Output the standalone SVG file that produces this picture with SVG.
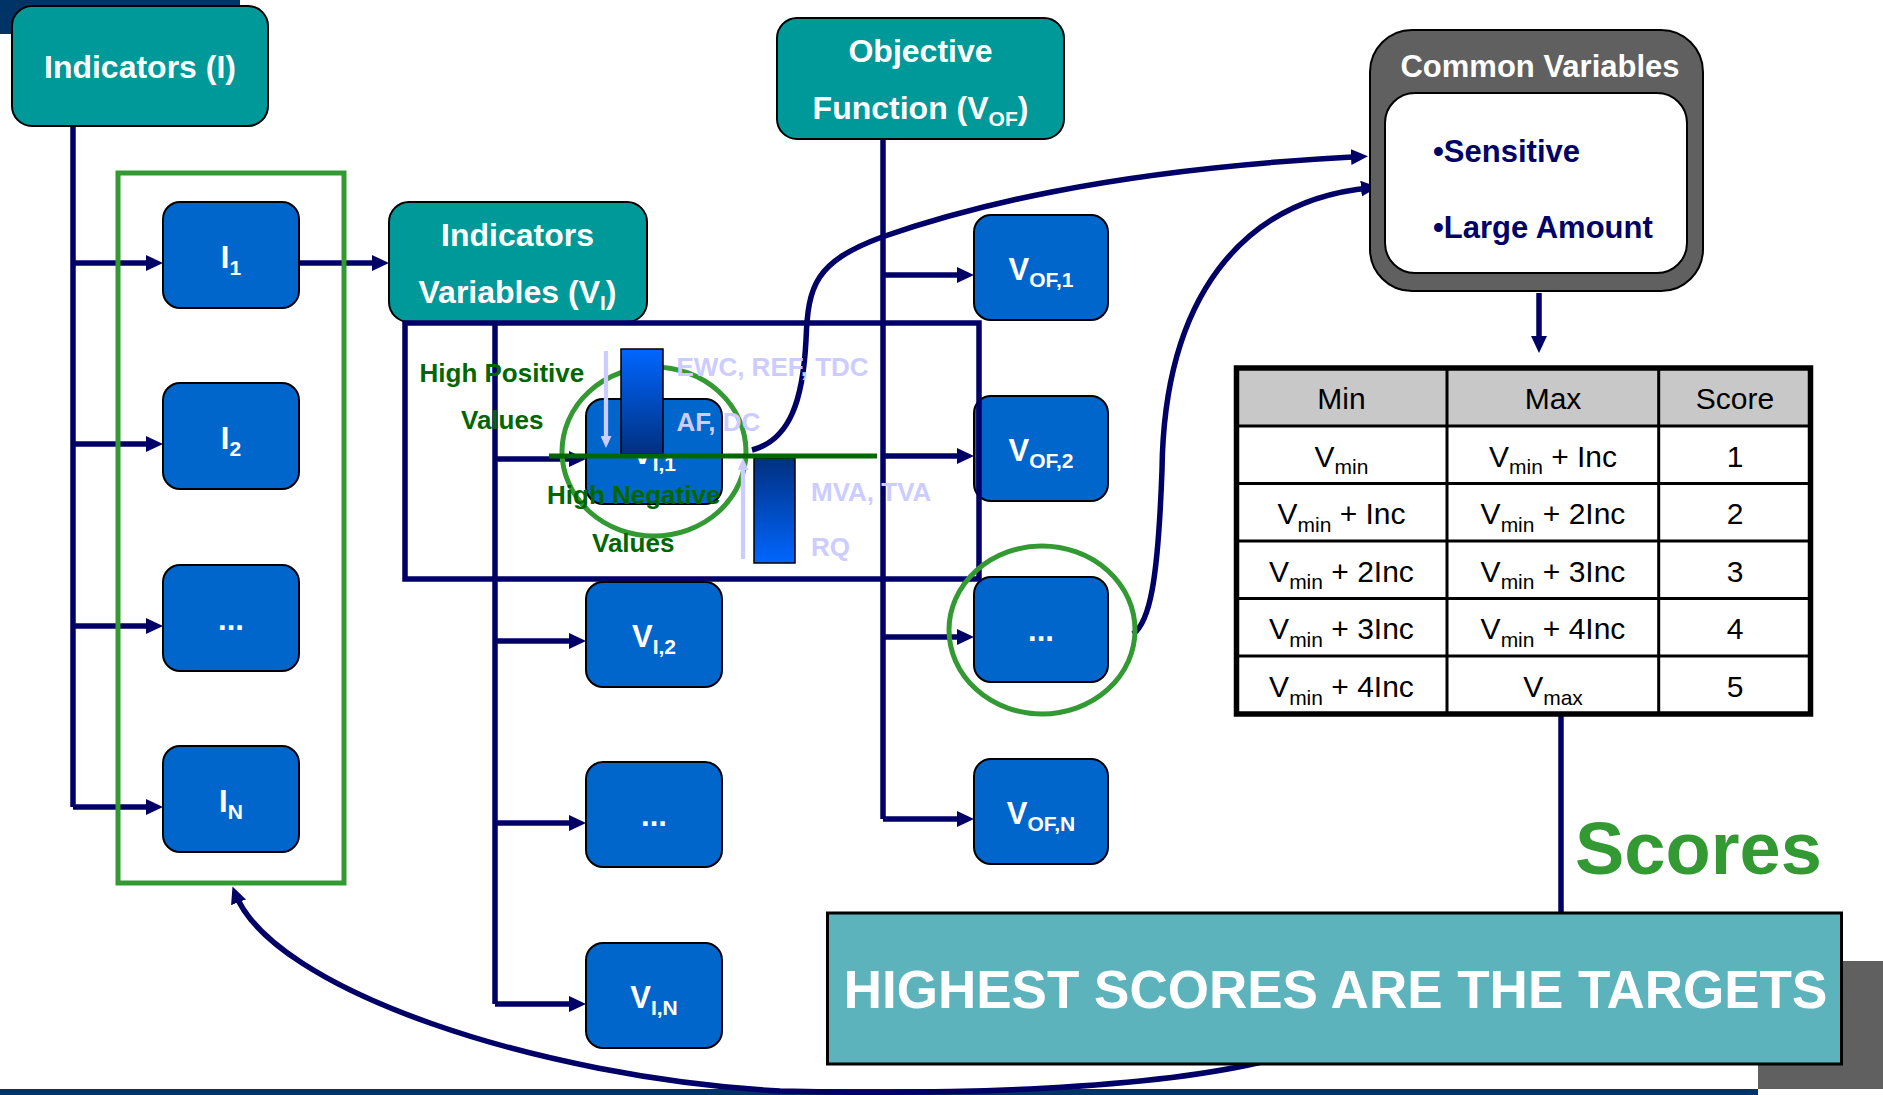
<svg xmlns="http://www.w3.org/2000/svg" width="1883" height="1095" viewBox="0 0 1883 1095">
<defs>
<style>
.teal{fill:#009999;stroke:#000;stroke-width:2}
.blue{fill:#0066cc;stroke:#000;stroke-width:2}
.t{font-family:"Liberation Sans",Arial,sans-serif;font-weight:bold}
.w{fill:#fff}
.h{font-size:32px}
.bt{font-size:31px}
.s{font-size:21px}
.conn{fill:none;stroke:#000066;stroke-width:5.5}
.arr{marker-end:url(#ah)}
.grn{fill:#006600;font-size:26px}
.lav{fill:#ccccff;font-size:26px}
.tt{font-family:"Liberation Sans",Arial,sans-serif;font-size:30px;fill:#000}
.ts{font-size:21px}
.tl{stroke:#000;stroke-width:3}
</style>
<marker id="ah" markerUnits="userSpaceOnUse" viewBox="0 0 17 16" markerWidth="17" markerHeight="16" refX="10" refY="8" orient="auto">
<path d="M0 0 L17 8 L0 16 z" fill="#000066"/>
</marker>
<marker id="lah" markerUnits="userSpaceOnUse" viewBox="0 0 12 11" markerWidth="12" markerHeight="11" refX="7" refY="5.5" orient="auto">
<path d="M0 0 L12 5.5 L0 11 z" fill="#ccccff"/>
</marker>
<linearGradient id="gpos" x1="0" y1="0" x2="0" y2="1">
<stop offset="0" stop-color="#0066ff"/>
<stop offset="1" stop-color="#003080"/>
</linearGradient>
<linearGradient id="gneg" x1="0" y1="0" x2="0" y2="1">
<stop offset="0" stop-color="#003080"/>
<stop offset="1" stop-color="#0066ff"/>
</linearGradient>
</defs>

<g id="background">
<rect x="0" y="0" width="240" height="34" fill="#003366"/>
<rect x="1758" y="961" width="125" height="128" fill="#606060"/>
<rect x="0" y="1089" width="1758" height="6" fill="#003366"/>
</g>

<g id="connectors">
<path class="conn" d="M73 126 V807"/>
<path class="conn arr" d="M73 263 H156"/>
<path class="conn arr" d="M73 444 H156"/>
<path class="conn arr" d="M73 626 H156"/>
<path class="conn arr" d="M73 807 H156"/>
<path class="conn arr" d="M299 263 H382"/>
<path class="conn" d="M495 322 V1004"/>
<path class="conn arr" d="M495 459 H579"/>
<path class="conn arr" d="M495 641 H579"/>
<path class="conn arr" d="M495 823 H579"/>
<path class="conn arr" d="M495 1004 H579"/>
<path class="conn" d="M883 139 V819"/>
<path class="conn arr" d="M883 275 H967"/>
<path class="conn arr" d="M883 456 H967"/>
<path class="conn arr" d="M883 637 H967"/>
<path class="conn arr" d="M883 819 H967"/>
<path class="conn arr" d="M752 450 C790 440 803 400 806 340 C808 285 815 262 882 237 C960 210 1100 170 1361 156.5"/>
<path class="conn arr" d="M1133 634 C1150 622 1158 580 1162 470 C1164 300 1240 200 1371 187.7"/>
<path class="conn arr" d="M1539 293 V346"/>
<path class="conn" stroke-width="4" d="M1561 716 V913"/>
<path class="conn arr" d="M1270 1060 C1150 1090 950 1095 780 1091 C540 1078 272 990 235 893"/>
</g>

<g id="indicators-group-frame">
<rect x="118" y="173" width="226" height="710" fill="none" stroke="#339933" stroke-width="5"/>
</g>

<g id="node-indicators">
<rect class="teal" x="12" y="6" width="256" height="120" rx="20"/>
<text class="t w h" x="140" y="78" text-anchor="middle">Indicators (I)</text>
</g>
<g id="node-I1">
<rect class="blue" x="163" y="202" width="136" height="106" rx="17"/>
<text class="t w bt" x="231" y="267.5" text-anchor="middle">I<tspan class="s" dy="7">1</tspan></text>
</g>
<g id="node-I2">
<rect class="blue" x="163" y="383" width="136" height="106" rx="17"/>
<text class="t w bt" x="231" y="448.5" text-anchor="middle">I<tspan class="s" dy="7">2</tspan></text>
</g>
<g id="node-I3">
<rect class="blue" x="163" y="565" width="136" height="106" rx="17"/>
<text class="t w bt" x="231" y="630" text-anchor="middle">...</text>
</g>
<g id="node-IN">
<rect class="blue" x="163" y="746" width="136" height="106" rx="17"/>
<text class="t w bt" x="231" y="811.5" text-anchor="middle">I<tspan class="s" dy="7">N</tspan></text>
</g>

<g id="node-indicators-variables">
<rect class="teal" x="389" y="202" width="258" height="120" rx="20"/>
<text class="t w h" x="517.5" y="246" text-anchor="middle">Indicators</text>
<text class="t w h" x="517.5" y="303" text-anchor="middle">Variables (V<tspan class="s" dy="7">I</tspan><tspan dy="-7">)</tspan></text>
</g>
<g id="node-VI1">
<rect class="blue" x="586" y="399" width="136" height="105" rx="17"/>
<text class="t w bt" x="654" y="464" text-anchor="middle">V<tspan class="s" dy="7">I,1</tspan></text>
</g>
<g id="node-VI2">
<rect class="blue" x="586" y="582" width="136" height="105" rx="17"/>
<text class="t w bt" x="654" y="647" text-anchor="middle">V<tspan class="s" dy="7">I,2</tspan></text>
</g>
<g id="node-VI3">
<rect class="blue" x="586" y="762" width="136" height="105" rx="17"/>
<text class="t w bt" x="654" y="826" text-anchor="middle">...</text>
</g>
<g id="node-VIN">
<rect class="blue" x="586" y="943" width="136" height="105" rx="17"/>
<text class="t w bt" x="654" y="1008" text-anchor="middle">V<tspan class="s" dy="7">I,N</tspan></text>
</g>

<g id="node-objective-function">
<rect class="teal" x="777" y="18" width="287" height="121" rx="20"/>
<text class="t w h" x="920.5" y="62" text-anchor="middle">Objective</text>
<text class="t w h" x="920.5" y="119" text-anchor="middle">Function (V<tspan class="s" dy="7">OF</tspan><tspan dy="-7">)</tspan></text>
</g>
<g id="node-VOF1">
<rect class="blue" x="974" y="215" width="134" height="105" rx="17"/>
<text class="t w bt" x="1041" y="280" text-anchor="middle">V<tspan class="s" dy="7">OF,1</tspan></text>
</g>
<g id="node-VOF2">
<rect class="blue" x="974" y="396" width="134" height="105" rx="17"/>
<text class="t w bt" x="1041" y="461" text-anchor="middle">V<tspan class="s" dy="7">OF,2</tspan></text>
</g>
<g id="node-VOF3">
<rect class="blue" x="974" y="577" width="134" height="105" rx="17"/>
<text class="t w bt" x="1041" y="641" text-anchor="middle">...</text>
</g>
<g id="node-VOFN">
<rect class="blue" x="974" y="759" width="134" height="105" rx="17"/>
<text class="t w bt" x="1041" y="824" text-anchor="middle">V<tspan class="s" dy="7">OF,N</tspan></text>
</g>

<g id="frame-VI1-detail">
<rect x="405" y="323" width="574" height="256" fill="none" stroke="#000066" stroke-width="5.5"/>
<ellipse cx="654" cy="451.5" rx="92" ry="84.5" fill="none" stroke="#339933" stroke-width="5"/>
<rect x="621" y="349" width="42" height="105" fill="url(#gpos)" stroke="#000" stroke-width="1.5"/>
<rect x="754" y="458" width="41" height="105" fill="url(#gneg)" stroke="#000" stroke-width="1.5"/>
<path d="M606 351 V443" stroke="#ccccff" stroke-width="4.3" fill="none" marker-end="url(#lah)"/>
<path d="M743 559 V463" stroke="#ccccff" stroke-width="4.3" fill="none" marker-end="url(#lah)"/>
<path d="M549 456 H877" stroke="#006600" stroke-width="5"/>
<text class="t grn" x="419.5" y="382">High Positive</text>
<text class="t grn" x="461" y="429">Values</text>
<text class="t grn" x="547" y="503.5">High Negative</text>
<text class="t grn" x="592" y="552">Values</text>
<text class="t lav" x="676.5" y="376">EWC, REF, TDC</text>
<text class="t lav" x="676.5" y="431">AF, DC</text>
<text class="t lav" x="811" y="501">MVA, TVA</text>
<text class="t lav" x="811" y="556">RQ</text>
</g>

<g id="highlight-VOF3">
<ellipse cx="1042" cy="630" rx="93" ry="84" fill="none" stroke="#339933" stroke-width="5"/>
</g>

<g id="node-common-variables">
<rect x="1370" y="30" width="333" height="261" rx="42" fill="#606060" stroke="#000" stroke-width="2"/>
<rect x="1385" y="93" width="302" height="180" rx="30" fill="#fff" stroke="#000" stroke-width="2"/>
<text class="t w" font-size="31" x="1540" y="77" text-anchor="middle">Common Variables</text>
<text class="t" font-size="31" fill="#000066" x="1433" y="162">•Sensitive</text>
<text class="t" font-size="31" fill="#000066" x="1433" y="238">•Large Amount</text>
</g>

<g id="node-score-table">
<rect x="1236.5" y="368" width="574" height="58" fill="#c8c8c8"/>
<rect x="1236.5" y="426" width="574" height="288" fill="#fff"/>
<path class="tl" d="M1236 426 H1811 M1236 483.5 H1811 M1236 541 H1811 M1236 598.5 H1811 M1236 656 H1811"/>
<path class="tl" stroke-width="2.5" d="M1447 368 V714 M1658.7 368 V714"/>
<rect x="1236.5" y="368" width="574" height="346" fill="none" stroke="#000" stroke-width="5.5"/>
<text class="tt" x="1341.5" y="409" text-anchor="middle">Min</text>
<text class="tt" x="1553" y="409" text-anchor="middle">Max</text>
<text class="tt" x="1735" y="409" text-anchor="middle">Score</text>
<text class="tt" x="1341.5" y="466.5" text-anchor="middle">V<tspan class="ts" dy="7.5">min</tspan></text>
<text class="tt" x="1553" y="466.5" text-anchor="middle">V<tspan class="ts" dy="7.5">min</tspan><tspan dy="-7.5"> + Inc</tspan></text>
<text class="tt" x="1735" y="466.5" text-anchor="middle">1</text>
<text class="tt" x="1341.5" y="524" text-anchor="middle">V<tspan class="ts" dy="7.5">min</tspan><tspan dy="-7.5"> + Inc</tspan></text>
<text class="tt" x="1553" y="524" text-anchor="middle">V<tspan class="ts" dy="7.5">min</tspan><tspan dy="-7.5"> + 2Inc</tspan></text>
<text class="tt" x="1735" y="524" text-anchor="middle">2</text>
<text class="tt" x="1341.5" y="581.5" text-anchor="middle">V<tspan class="ts" dy="7.5">min</tspan><tspan dy="-7.5"> + 2Inc</tspan></text>
<text class="tt" x="1553" y="581.5" text-anchor="middle">V<tspan class="ts" dy="7.5">min</tspan><tspan dy="-7.5"> + 3Inc</tspan></text>
<text class="tt" x="1735" y="581.5" text-anchor="middle">3</text>
<text class="tt" x="1341.5" y="639" text-anchor="middle">V<tspan class="ts" dy="7.5">min</tspan><tspan dy="-7.5"> + 3Inc</tspan></text>
<text class="tt" x="1553" y="639" text-anchor="middle">V<tspan class="ts" dy="7.5">min</tspan><tspan dy="-7.5"> + 4Inc</tspan></text>
<text class="tt" x="1735" y="639" text-anchor="middle">4</text>
<text class="tt" x="1341.5" y="697" text-anchor="middle">V<tspan class="ts" dy="7.5">min</tspan><tspan dy="-7.5"> + 4Inc</tspan></text>
<text class="tt" x="1553" y="697" text-anchor="middle">V<tspan class="ts" dy="7.5">max</tspan></text>
<text class="tt" x="1735" y="697" text-anchor="middle">5</text>
</g>

<g id="label-scores">
<text class="t" font-size="74" fill="#339933" x="1575" y="874">Scores</text>
</g>

<g id="node-banner">
<rect x="827.5" y="913" width="1014" height="151" fill="#5cb3bb" stroke="#000" stroke-width="3"/>
<text class="t w" font-size="53" x="1335.5" y="1008" text-anchor="middle">HIGHEST SCORES ARE THE TARGETS</text>
</g>
</svg>
